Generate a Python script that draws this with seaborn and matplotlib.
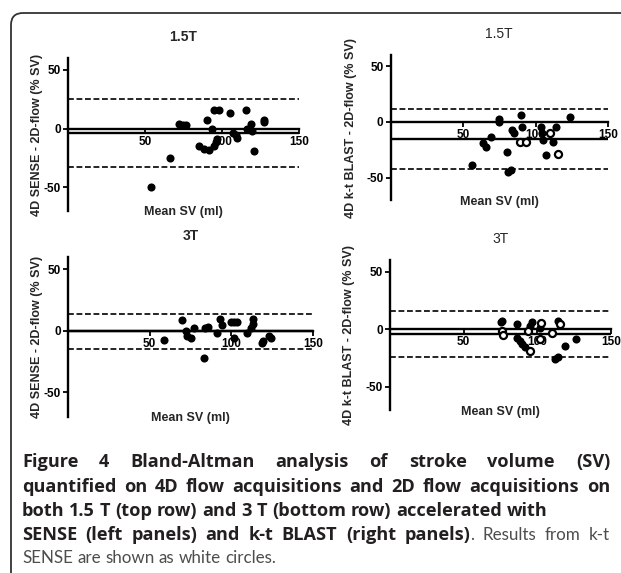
import matplotlib
matplotlib.use("Agg")
from matplotlib import pyplot as plt
from matplotlib.patches import FancyBboxPatch
import seaborn as sns

# 1.5T, SENSE (top left)
sense15_mean = [54, 66, 72, 74.5, 76.5, 85, 88.5, 91.5, 90.5, 93.5, 95, 95, 96, 97, 98, 105,
                107, 109, 109.5, 115.5, 116, 119, 119.5, 121, 127, 127]
sense15_diff = [-50, -25, 3.5, 2.9, 2.9, -15, -17.3, -17.9, 6.9, -0.6, 15.6, -15, -11.6, -9,
                16.2, 13, -3.5, -5.2, -8.1, 15.9, -0.6, 3.8, -2.3, -18.8, 7.2, 5.2]
sense15_bias = -4
sense15_loa = [25, -33]

# 1.5T, k-t BLAST (top right), k-t SENSE as open circles
blast15_mean = [56.5, 64, 66, 69, 74.5, 74.5, 80, 81, 83, 84, 85, 90, 91, 103.5, 104.5,
                105.5, 107, 112, 114, 123.5]
blast15_diff = [-39, -19, -22.8, -13.2, 2.7, -0.3, -27, -45, -43, -6.8, -10.2, 6, -5, -5,
                -10, -16.2, -30, -18, -4.2, 4.3]
ktsense15_mean = [89, 93.5, 110, 115.5]
ktsense15_diff = [-18, -18.3, -9.6, -28.7]
blast15_bias = -15.5
blast15_loa = [11.5, -42.5]

# 3T, SENSE (bottom left)
sense3_mean = [59, 70, 72, 73, 75, 77, 83.5, 84, 85.5, 91, 93, 94.5, 99.5, 101.5, 103.5,
               101.5, 109.5, 113, 113.5, 112, 118.5, 119.5, 123, 124.5]
sense3_diff = [-7.7, 9, 0, -4, -5.5, 2.7, -22.4, 2.7, 3.3, -1.8, 10, 4.5, 7, 7, 7,
               -5.5, -1.6, 9.8, 5.5, 2.3, -9.5, -8, -4, -5.5]
sense3_bias = -0.5
sense3_loa = [14, -15]

# 3T, k-t BLAST (bottom right), k-t SENSE as open circles
blast3_mean = [75, 76, 86, 86.2, 88.4, 89.6, 91.8, 95.2, 96.4, 102, 112.2, 113.8, 114,
               119, 126.5]
blast3_diff = [6, 7.2, 4.3, -7.2, -10.2, -13, -15, 3, 6, 1.4, -26, -24, 7.5, -14.5, -8.1]
ktsense3_mean = [76, 76.4, 93.4, 95.2, 102, 102.7, 110, 115.6]
ktsense3_diff = [-1.4, -5, -1.5, -18.5, -8.7, 5.2, -3.5, 4.3]
blast3_bias = -4
blast3_loa = [15.5, -24]

W, H = 621, 573

sns.set_style("white")
plt.rcParams['font.family'] = ['Liberation Sans', 'DejaVu Sans']
plt.rcParams['axes.unicode_minus'] = False

fig = plt.figure(figsize=(W / 100, H / 100), dpi=100)


def px_axes(left, top, right, bottom):
    return fig.add_axes([left / W, 1 - bottom / H, (right - left) / W, (bottom - top) / H])


# Bland-Altman panel
def ba_panel(ax, mean, diff, bias, loa, title, ylabel, bold_title,
             open_mean=None, open_diff=None, ylab_x=-0.13):
    for lim in loa:
        ax.axhline(lim, color='black', lw=1.2, dashes=(3.5, 1.6), zorder=1)
    ax.axhline(bias, color='black', lw=1.7, zorder=1)
    sns.scatterplot(x=mean, y=diff, ax=ax, color='black', s=34, linewidth=0, zorder=3)
    if open_mean is not None:
        sns.scatterplot(x=open_mean, y=open_diff, ax=ax, color='white', edgecolor='black',
                        s=26, linewidth=1.6, zorder=4)
    ax.set_xlim(0, 150)
    ax.set_ylim(-70, 60)
    ax.spines['top'].set_visible(False)
    ax.spines['right'].set_visible(False)
    ax.spines['bottom'].set_position(('data', 0))
    for s in ['left', 'bottom']:
        ax.spines[s].set_linewidth(1.7)
        ax.spines[s].set_color('black')
    ax.set_xticks([50, 100, 150])
    ax.set_yticks([-50, 0, 50])
    ax.tick_params(direction='out', length=3.5, width=1.3, labelsize=8.5, pad=1.5,
                   bottom=True, left=True, colors='black')
    for lbl in ax.get_xticklabels() + ax.get_yticklabels():
        lbl.set_fontweight('bold')
    ax.set_title(title, fontsize=10, fontweight='bold' if bold_title else 'normal', pad=12)
    ax.set_ylabel(ylabel, fontsize=9, fontweight='bold')
    ax.yaxis.set_label_coords(ylab_x, 0.5)
    ax.set_xlabel('Mean SV (ml)', fontsize=9, fontweight='bold')
    ax.xaxis.set_label_coords(0.5, 0.03)
    ax.patch.set_alpha(0)


ax1 = px_axes(68, 58, 299, 211)
ba_panel(ax1, sense15_mean, sense15_diff, sense15_bias, sense15_loa, '1.5T',
         '4D SENSE - 2D-flow (% SV)', True, ylab_x=-0.108)

ax2 = px_axes(390.5, 55, 608, 200)
ba_panel(ax2, blast15_mean, blast15_diff, blast15_bias, blast15_loa, '1.5T',
         '4D k-t BLAST - 2D-flow (% SV)', False, ktsense15_mean, ktsense15_diff, ylab_x=-0.154)

ax3 = px_axes(68, 257, 313, 417)
ba_panel(ax3, sense3_mean, sense3_diff, sense3_bias, sense3_loa, '3T',
         '4D SENSE - 2D-flow (% SV)', True, ylab_x=-0.102)

ax4 = px_axes(390, 260, 611, 410)
ba_panel(ax4, blast3_mean, blast3_diff, blast3_bias, blast3_loa, '3T',
         '4D k-t BLAST - 2D-flow (% SV)', False, ktsense3_mean, ktsense3_diff, ylab_x=-0.158)

# figure frame, rounded top-left corner
frame = FancyBboxPatch((0.11, -0.5), 7.0, (H - 13) / 100 + 0.5,
                       boxstyle="round,pad=0,rounding_size=0.12",
                       transform=fig.dpi_scale_trans, fill=False, lw=1.3, ec='#333333')
fig.patches.append(frame)

# caption
renderer = fig.canvas.get_renderer()
cap_left, cap_right = 22, 610


def text_width(s, **kw):
    t = fig.text(0, 0, s, **kw)
    w = t.get_window_extent(renderer).width
    t.remove()
    return w


# font sizes fitted to the unjustified lines of the reference
bold_kw = dict(fontweight='bold', color='#231f20', family=['Open Sans', 'DejaVu Sans'])
reg_kw = dict(fontweight='normal', color='#4d4d4d', family=['Lato', 'DejaVu Sans'])
bold_kw['fontsize'] = 10 * 525 / text_width(
    "both 1.5 T (top row) and 3 T (bottom row) accelerated with", fontsize=10, **bold_kw)
reg_kw['fontsize'] = 10 * 255 / text_width(
    "SENSE are shown as white circles.", fontsize=10, **reg_kw)

B, R = 'b', 'r'
cap_lines = [
    ([[("Figure", B)], [("4", B)], [("Bland-Altman", B)], [("analysis", B)],
      [("of", B)], [("stroke", B)], [("volume", B)], [("(SV)", B)]], True),
    ([[(w, B)] for w in "quantified on 4D flow acquisitions and 2D flow acquisitions on".split()], True),
    ([[(w, B)] for w in "both 1.5 T (top row) and 3 T (bottom row) accelerated with".split()], False),
    ([[(w, B)] for w in "SENSE (left panels) and k-t BLAST (right".split()]
     + [[("panels)", B), (".", R)], [("Results", R)], [("from", R)], [("k-t", R)]], True),
    ([[(w, R)] for w in "SENSE are shown as white circles.".split()], False),
]
baselines = [467, 492, 516, 540, 563]

for (words, justify), yb in zip(cap_lines, baselines):
    arts = []
    for word in words:
        parts = [fig.text(0, 1 - yb / H, t, va='baseline', **(bold_kw if st == B else reg_kw))
                 for t, st in word]
        arts.append(parts)
    widths = [[p.get_window_extent(renderer).width for p in parts] for parts in arts]
    kw = bold_kw if words[0][0][1] == B else reg_kw
    space_w = text_width('a a', **kw) - text_width('aa', **kw)
    total = sum(sum(w) for w in widths)
    if justify:
        gap = (cap_right - cap_left - total) / (len(arts) - 1)
    else:
        gap = space_w
    x = cap_left
    for parts, ws in zip(arts, widths):
        for p, w in zip(parts, ws):
            p.set_x(x / W)
            x += w
        x += gap

fig.savefig('out.png', dpi=100)
